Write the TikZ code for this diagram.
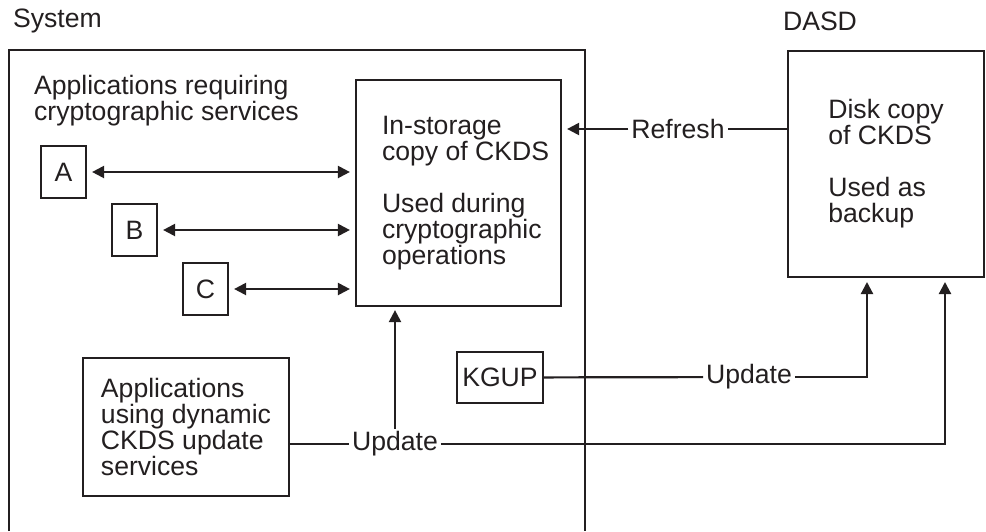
\documentclass[tikz,border=0pt]{standalone}
\usepackage{fontspec}
\setmainfont{Liberation Sans}
\usetikzlibrary{positioning, arrows.meta}
\definecolor{ink}{RGB}{35,31,32}

\begin{document}
\begin{tikzpicture}[x=0.5pt, y=-0.5pt, >={Triangle[length=6pt,width=6pt]}, line width=1.1pt, color=ink,
    every node/.style={font=\fontsize{13.3}{13}\selectfont},
    box/.style = {draw, inner sep=0pt, align=left},
    txt/.style = {inner sep=0pt, align=left},
    lbl/.style = {inner sep=1pt}]

    \useasboundingbox (0,0) rectangle (986,531);

    \node[txt, anchor=west] (system) at (12,21) {System};
    \node[txt] (dasd) at (820,21) {DASD};
    \node[txt, anchor=north west] (reqlbl) at (33,74) {Applications requiring\\cryptographic services};

    \node[box, minimum width=102.5pt, minimum height=113pt] (ckds) at (458.5,193) {};
    \node[txt, right=13pt of ckds.west] (ckdstxt) {In-storage\\copy of CKDS\\[13pt]Used during\\cryptographic\\operations};
    \node[box, minimum width=98pt, minimum height=113pt] (disk) at (886,164) {Disk copy\\of CKDS\\[13pt]Used as\\backup};

    \node[box, minimum width=22.5pt, minimum height=26pt] (a) at (63.5,172) {A};
    \node[box, minimum width=22.5pt, minimum height=26pt] (b) at (134.5,230) {B};
    \node[box, minimum width=22.5pt, minimum height=26pt] (c) at (205.5,289) {C};

    \node[box, minimum width=103pt, minimum height=69pt] (dyn) at (186,427) {Applications\\using dynamic\\CKDS update\\services};
    \node[box, minimum width=43pt, minimum height=25.5pt] (kgup) at (500,377.5) {KGUP};

    \node[lbl] (refresh) at (678,129) {Refresh};
    \node[lbl] (upd1) at (395,444) {Update};
    \node[lbl] (upd2) at (749,377) {Update};

    \coordinate (in1) at (867,277);
    \coordinate (in2) at (945,277);

    \draw (9,531) |- (585,50) -- (585,531);

    \draw[<->, shorten <=2.5pt, shorten >=2.5pt] (a) -- (a -| ckds.west);
    \draw[<->, shorten <=2.5pt, shorten >=2.5pt] (b) -- (b -| ckds.west);
    \draw[<->, shorten <=2.5pt, shorten >=2.5pt] (c) -- (c -| ckds.west);

    \draw (disk.west |- refresh) -- (refresh);
    \draw[->, shorten >=2.5pt] (refresh) -- (refresh -| ckds.east);

    \draw (dyn.east |- upd1) -- (upd1);
    \draw[->, shorten >=1.5pt] (upd1) -- (upd1 |- ckds.south);
    \draw[->, shorten >=2.5pt] (upd1) -| (in2);

    \draw (kgup) -- (upd2);
    \draw[->, shorten >=2.5pt] (upd2) -| (in1);
\end{tikzpicture}
\end{document}
